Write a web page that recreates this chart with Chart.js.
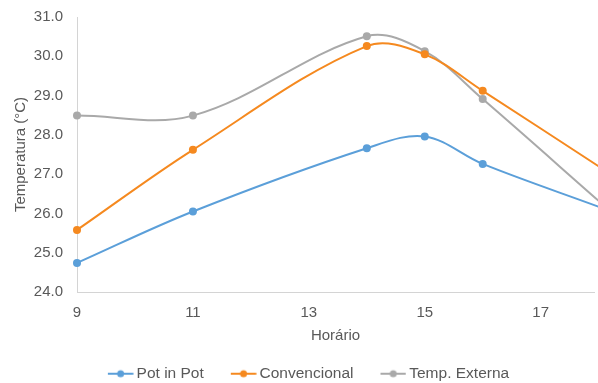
<!DOCTYPE html>
<html>
<head>
<meta charset="utf-8">
<script src="https://cdn.jsdelivr.net/npm/chart.js@4/dist/chart.umd.min.js"></script>
<style>
  html, body { margin: 0; padding: 0; background: #ffffff; }
  #wrap { width: 598px; height: 383px; }
</style>
</head>
<body>
<div id="wrap"><canvas id="chart" width="598" height="383"></canvas></div>
<script>
// Hourly temperature readings (°C)
const hours = [9, 11, 14, 15, 16, 18];
const potInPot = [24.74, 26.05, 27.66, 27.96, 27.26, 26.17];
const convencional = [25.58, 27.62, 30.26, 30.05, 29.12, 27.20];
const tempExterna = [28.49, 28.49, 30.51, 30.13, 28.91, 26.32];

const seriesNames = ['Pot in Pot', 'Convencional', 'Temp. Externa'];
const seriesColors = ['#5B9FD9', '#F5891F', '#A9A9A9'];

const xTicks = [9, 11, 13, 15, 17];
const yMin = 24, yMax = 31;

const FONT = '"Liberation Sans", Arial, sans-serif';
const TEXT = '#595959';
const SWATCH_BOX = 28;

// Legend swatch: short line with a dot in the middle, sitting close to the label text
function legendSwatch(color) {
  const c = document.createElement('canvas');
  c.width = SWATCH_BOX + 10; c.height = 10;
  const g = c.getContext('2d');
  const x0 = 12, x1 = 37.5;
  g.strokeStyle = color; g.lineWidth = 2;
  g.beginPath(); g.moveTo(x0, 5); g.lineTo(x1, 5); g.stroke();
  g.fillStyle = color;
  g.beginPath(); g.arc((x0 + x1) / 2, 5, 3.5, 0, Math.PI * 2); g.fill();
  return c;
}

function toPoints(values) {
  return hours.map((h, i) => ({ x: h, y: values[i] }));
}

const makeSet = (name, values, color) => ({
  label: name,
  data: toPoints(values),
  borderColor: color,
  backgroundColor: color,
  borderWidth: 2,
  pointRadius: 4,
  pointHoverRadius: 4,
  pointBorderWidth: 0,
  pointStyle: 'circle',
  tension: 0.35,
  clip: false,
  fill: false
});

new Chart(document.getElementById('chart'), {
  type: 'line',
  data: {
    datasets: [
      makeSet(seriesNames[0], potInPot, seriesColors[0]),
      makeSet(seriesNames[1], convencional, seriesColors[1]),
      makeSet(seriesNames[2], tempExterna, seriesColors[2])
    ]
  },
  options: {
    responsive: false,
    animation: false,
    devicePixelRatio: 1,
    layout: { padding: { top: 17, left: 12, right: 0, bottom: 0 } },
    plugins: {
      tooltip: { enabled: false },
      legend: {
        position: 'bottom',
        maxHeight: 37,
        labels: {
          usePointStyle: true,
          pointStyleWidth: SWATCH_BOX,
          padding: 20,
          color: TEXT,
          font: { family: FONT, size: 15.5 },
          generateLabels: (chart) => chart.data.datasets.map((ds, i) => ({
            text: ds.label,
            pointStyle: legendSwatch(ds.borderColor),
            fillStyle: ds.borderColor,
            strokeStyle: ds.borderColor,
            fontColor: TEXT,
            lineWidth: 0,
            hidden: false,
            datasetIndex: i
          }))
        }
      }
    },
    scales: {
      x: {
        type: 'linear',
        min: 9,
        max: 17.92,
        afterBuildTicks: (s) => { s.ticks = xTicks.map(v => ({ value: v })); },
        afterFit: (s) => { s.height = 54; },
        grid: { display: false, drawTicks: false, tickLength: 0 },
        border: { display: true, color: '#D4D4D4', width: 1 },
        ticks: {
          padding: 12,
          color: TEXT,
          font: { family: FONT, size: 15 },
          maxRotation: 0,
          callback: (v) => String(v)
        },
        title: {
          display: true,
          text: 'Horário',
          color: TEXT,
          font: { family: FONT, size: 15 },
          padding: { top: 0, bottom: 1 }
        }
      },
      y: {
        min: yMin,
        max: yMax,
        afterFit: (s) => {
          s.width = 77 - 12;
          // only half a label of room above/below the axis ends
          s.paddingTop = 9;
          s.paddingBottom = 9;
        },
        grid: { display: false, drawTicks: false, tickLength: 0 },
        border: { display: true, color: '#D4D4D4', width: 1 },
        ticks: {
          stepSize: 1,
          padding: 14,
          color: TEXT,
          font: { family: FONT, size: 15 },
          callback: (v) => Number(v).toFixed(1)
        },
        title: {
          display: true,
          text: 'Temperatura (°C)',
          color: TEXT,
          font: { family: FONT, size: 15 },
          padding: { top: 0, bottom: 0 }
        }
      }
    }
  }
});
</script>
</body>
</html>
